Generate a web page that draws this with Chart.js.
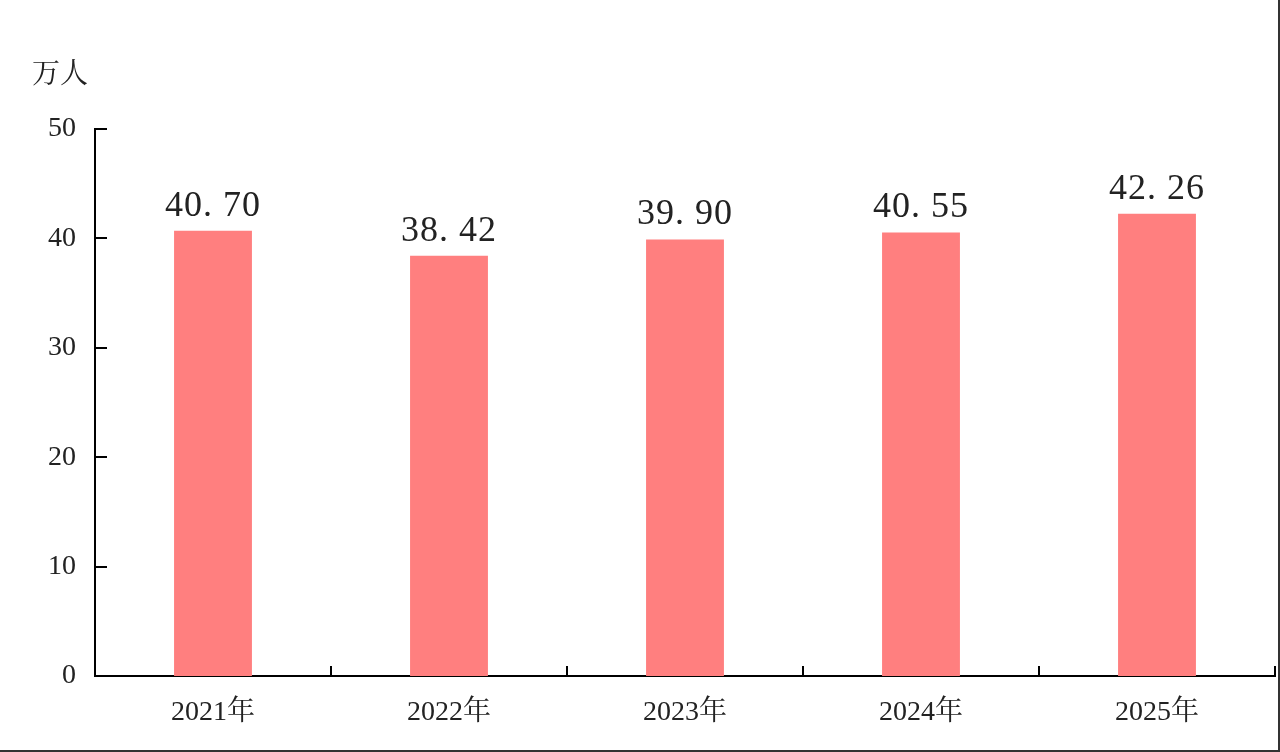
<!DOCTYPE html>
<html>
<head>
<meta charset="utf-8">
<script src="https://cdn.jsdelivr.net/npm/chart.js@4"></script>
<style>
  html, body { margin: 0; padding: 0; background: #fff; }
  #box { width: 1278px; height: 750px; border-right: 2px solid #333; border-bottom: 2px solid #333; position: relative; }
  #unit { position: absolute; left: 32px; top: 51px; font: 28px 'Noto Serif CJK SC', 'Noto Sans CJK SC', serif; color: #222; }
</style>
</head>
<body>
<div id="box">
  <canvas id="chart" width="1278" height="750"></canvas>
  <div id="unit">万人</div>
</div>
<script>
var years = ["2021年", "2022年", "2023年", "2024年", "2025年"];
var people = [40.70, 38.42, 39.90, 40.55, 42.26];
var yTicks = [0, 10, 20, 30, 40, 50];

var serif = "'Liberation Serif', 'Noto Serif CJK SC', 'Noto Sans CJK SC', serif";

// ticks pointing into the plot, plus value labels over the bars
var innerTicks = {
    id: 'innerTicks',
    afterDraw: function (chart) {
        var ctx = chart.ctx;
        var x = chart.scales.x, y = chart.scales.y;
        ctx.save();
        ctx.strokeStyle = '#000';
        ctx.lineWidth = 2;
        ctx.beginPath();
        yTicks.forEach(function (v) {
            var py = Math.round(y.getPixelForValue(v));
            if (v === 0) return;
            ctx.moveTo(x.left, py);
            ctx.lineTo(x.left + 12, py);
        });
        var step = (x.right - x.left) / years.length;
        for (var i = 1; i <= years.length; i++) {
            var px = Math.round(x.left + step * i);
            ctx.moveTo(px, y.bottom);
            ctx.lineTo(px, y.bottom - 10);
        }
        ctx.stroke();

        ctx.fillStyle = '#222';
        ctx.font = '36px ' + serif;
        ctx.textAlign = 'center';
        ctx.textBaseline = 'alphabetic';
        if ('letterSpacing' in ctx) ctx.letterSpacing = '1px';
        chart.getDatasetMeta(0).data.forEach(function (bar, i) {
            ctx.fillText(people[i].toFixed(2).replace('.', '. '), bar.x, bar.y - 15);
        });
        ctx.restore();
    }
};

new Chart(document.getElementById('chart'), {
    type: 'bar',
    data: {
        labels: years,
        datasets: [{
            data: people,
            backgroundColor: '#FF7F7F',
            borderWidth: 0,
            categoryPercentage: 1,
            barPercentage: 0.33
        }]
    },
    options: {
        responsive: false,
        animation: false,
        events: [],
        layout: { padding: { top: 129, right: 3, left: 0, bottom: 0 } },
        plugins: { legend: { display: false }, tooltip: { enabled: false } },
        scales: {
            x: {
                grid: { display: false, drawTicks: false },
                border: { display: true, color: '#000', width: 2 },
                ticks: { color: '#222', padding: 20, font: { family: serif, size: 28 } },
                afterFit: function (s) { s.height = 74; }
            },
            y: {
                min: 0,
                max: 50,
                afterBuildTicks: function (s) { s.ticks = yTicks.map(function (v) { return { value: v }; }); },
                grid: { display: false, drawTicks: false },
                border: { display: true, color: '#000', width: 2 },
                ticks: { color: '#222', padding: 19, font: { family: serif, size: 28 } },
                afterFit: function (s) { s.width = 95; }
            }
        }
    },
    plugins: [innerTicks]
});
</script>
</body>
</html>
